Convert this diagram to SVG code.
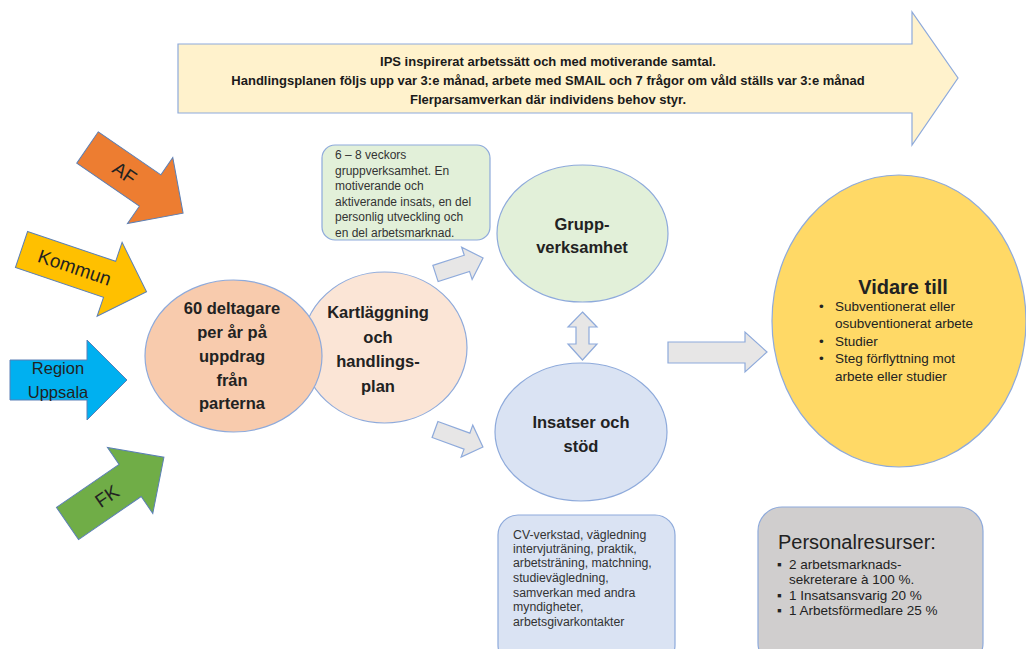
<svg xmlns="http://www.w3.org/2000/svg" width="1026" height="649" viewBox="0 0 1026 649">
<style>
text{font-family:"Liberation Sans",Arial,sans-serif;fill:#222}
.b{font-weight:bold}
.ol{stroke:#8eaadb;stroke-width:1.2}
.ga{fill:#e7e6e6;stroke:#8eaadb;stroke-width:1.2}
.big{font-size:16.5px;font-weight:bold;text-anchor:middle}
.sm{font-size:12px;fill:#333}
.ins{font-size:12.3px;fill:#333}
.lbl{font-size:19px;text-anchor:middle;dominant-baseline:central}
.bn{font-size:13px;font-weight:bold;text-anchor:middle;fill:#1a1a1a}
</style>
<rect width="1026" height="649" fill="#fff"/>
<g id="banner">
<path class="ol" d="M178,44 H912 V12 L958,78 L912,145 V113 H178 Z" fill="#fff2cc"/>
<text class="bn" x="548" y="65.5">IPS inspirerat arbetssätt och med motiverande samtal.</text>
<text class="bn" x="548" y="84.5">Handlingsplanen följs upp var 3:e månad, arbete med SMAIL och 7 frågor om våld ställs var 3:e månad</text>
<text class="bn" x="548" y="103.5">Flerparsamverkan där individens behov styr.</text>
</g>
<g id="af" transform="translate(87.5,147.5) rotate(34.5)">
<path d="M0,-19 H76 V-40 L116,0 L76,40 V19 H0 Z" fill="#ed7d31" stroke="#5b7fb5" stroke-width="1"/>
<text class="lbl" x="45" y="0">AF</text>
</g>
<g id="kommun" transform="translate(21.5,249.5) rotate(18.7)">
<path d="M0,-19 H93 V-39 L132,0 L93,39 V19 H0 Z" fill="#ffc000" stroke="#5b7fb5" stroke-width="1"/>
<text class="lbl" x="56" y="0" font-size="20">Kommun</text>
</g>
<g id="region">
<path d="M10,360 H87 V340 L127,380 L87,420 V400 H10 Z" fill="#00b0f0" stroke="#5b7fb5" stroke-width="1"/>
<text font-size="16.5" text-anchor="middle" x="58" y="374" fill="#1f3350">Region</text>
<text font-size="16.5" text-anchor="middle" x="58" y="398" fill="#1f3350">Uppsala</text>
</g>
<g id="fk" transform="translate(67.5,523.5) rotate(-34.5)">
<path d="M0,-19.5 H76 V-40 L117,0 L76,40 V19.5 H0 Z" fill="#70ad47" stroke="#5b7fb5" stroke-width="1"/>
<text class="lbl" x="48" y="0">FK</text>
</g>
<g id="connectors">
<path class="ga" transform="translate(435.5,273.5) rotate(-18)" d="M0,-8.5 H33 V-17 L50,0 L33,17 V8.5 H0 Z"/>
<path class="ga" transform="translate(435,429.5) rotate(20)" d="M0,-8.5 H34 V-17 L51,0 L34,17 V8.5 H0 Z"/>
<path class="ga" d="M582.5,312 L597,327 H589 V344 H597 L582.5,360 L568,344 H576 V327 H568 Z"/>
<path class="ga" d="M668,342 H745 V332 L767,352 L745,372 V363 H668 Z"/>
</g>
<g id="kartlaggning">
<ellipse class="ol" cx="384.5" cy="347.5" rx="82.5" ry="75.5" fill="#fbe5d6"/>
<text class="big" x="378" y="318">Kartläggning</text>
<text class="big" x="378" y="343">och</text>
<text class="big" x="378" y="367">handlings-</text>
<text class="big" x="378" y="392">plan</text>
</g>
<g id="deltagare">
<ellipse class="ol" cx="233.5" cy="356" rx="88.5" ry="76" fill="#f8cbad"/>
<text class="big" x="232" y="314">60 deltagare</text>
<text class="big" x="232" y="338">per år på</text>
<text class="big" x="232" y="362">uppdrag</text>
<text class="big" x="232" y="386">från</text>
<text class="big" x="232" y="409">parterna</text>
</g>
<g id="gruppinfo">
<rect class="ol" x="322" y="145" width="168" height="95" rx="13" fill="#e2f0d9"/>
<text class="sm" x="335" y="159">6 – 8 veckors</text>
<text class="sm" x="335" y="175">gruppverksamhet. En</text>
<text class="sm" x="335" y="190">motiverande och</text>
<text class="sm" x="335" y="206">aktiverande insats, en del</text>
<text class="sm" x="335" y="221">personlig utveckling och</text>
<text class="sm" x="335" y="237">en del arbetsmarknad.</text>
</g>
<g id="grupp">
<ellipse class="ol" cx="582.5" cy="233.5" rx="85.5" ry="68.5" fill="#e2f0d9"/>
<text class="big" x="582" y="230">Grupp-</text>
<text class="big" x="582" y="253">verksamhet</text>
</g>
<g id="insatser">
<ellipse class="ol" cx="581" cy="432" rx="86" ry="69" fill="#dae3f3"/>
<text class="big" x="581" y="428">Insatser och</text>
<text class="big" x="581" y="452">stöd</text>
</g>
<g id="insatsinfo">
<rect class="ol" x="498" y="515" width="177" height="150" rx="20" fill="#dae3f3"/>
<text class="ins" x="513" y="539">CV-verkstad, vägledning</text>
<text class="ins" x="513" y="553">intervjuträning, praktik,</text>
<text class="ins" x="513" y="567">arbetsträning, matchning,</text>
<text class="ins" x="513" y="582">studievägledning,</text>
<text class="ins" x="513" y="597">samverkan med andra</text>
<text class="ins" x="513" y="611">myndigheter,</text>
<text class="ins" x="513" y="626">arbetsgivarkontakter</text>
</g>
<g id="vidare">
<ellipse class="ol" cx="899" cy="321" rx="127" ry="146" fill="#ffd966"/>
<text class="b" font-size="20" text-anchor="middle" x="903" y="294">Vidare till</text>
<g font-size="13.5" fill="#333">
<text x="819" y="311">•</text><text x="835" y="311">Subventionerat eller</text>
<text x="835" y="328">osubventionerat arbete</text>
<text x="819" y="346">•</text><text x="835" y="346">Studier</text>
<text x="819" y="363">•</text><text x="835" y="363">Steg förflyttning mot</text>
<text x="835" y="381">arbete eller studier</text>
</g>
</g>
<g id="personal">
<rect class="ol" x="758" y="507" width="225" height="160" rx="24" fill="#d0cece"/>
<text x="778" y="549" font-size="20" fill="#333">Personalresurser:</text>
<g font-size="13.5" fill="#333">
<text x="777" y="569">▪</text><text x="789" y="569">2 arbetsmarknads-</text>
<text x="789" y="584">sekreterare à 100 %.</text>
<text x="777" y="600">▪</text><text x="789" y="600">1 Insatsansvarig 20 %</text>
<text x="777" y="615">▪</text><text x="789" y="615">1 Arbetsförmedlare 25 %</text>
</g>
</g>
</svg>
